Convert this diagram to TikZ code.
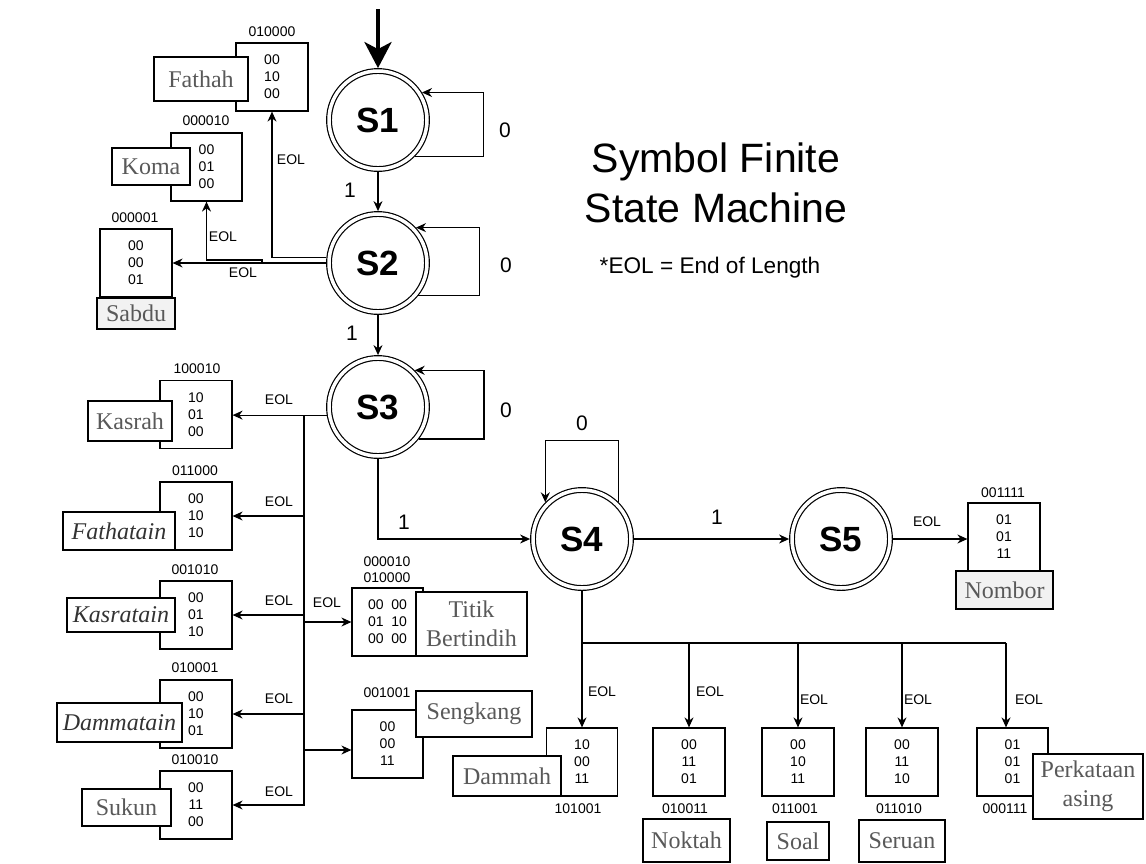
\documentclass[tikz,border=0pt]{standalone}
\usepackage{fontspec}
\setmainfont{Liberation Sans}
\newfontfamily\seriflab{Liberation Serif}
\usetikzlibrary{arrows.meta,calc}
\begin{document}
\begin{tikzpicture}[x=1pt,y=-1pt,line width=1.2pt,
  state/.style={circle,draw,double,double distance=3.5pt,line width=1.2pt,minimum size=98pt,inner sep=0pt,outer sep=2.9pt,font=\fontsize{35}{40}\selectfont\bfseries},
  databox/.style={draw,line width=1.2pt,minimum width=72pt,minimum height=68pt,inner sep=0pt,align=center,fill=white,font=\fontsize{14}{17}\selectfont},
  codetxt/.style={inner sep=0pt,font=\fontsize{14}{17}\selectfont},
  labbox/.style={draw,line width=1.2pt,fill=white,inner sep=0pt,align=center,text=black!65,font=\seriflab\fontsize{24}{29}\selectfont},
  ilabbox/.style={labbox,text=black!80,font=\seriflab\itshape\fontsize{24}{29}\selectfont},
  eoltxt/.style={inner sep=0pt,font=\fontsize{14}{17}\selectfont},
  trtxt/.style={inner sep=0pt,font=\fontsize{21}{25}\selectfont},
  arr/.style={-{Stealth[length=10pt,width=9pt]},line width=1.2pt},
]
\useasboundingbox (0,0) rectangle (1146,863);

% states
\node[state] (S1) at (378,120) {S1};
\node[state] (S2) at (378,263) {S2};
\node[state] (S3) at (378,407) {S3};
\node[state] (S4) at (582,539) {S4};
\node[state] (S5) at (841,539) {S5};

% title
\node[inner sep=0pt,anchor=base,font=\fontsize{41}{50}\selectfont] (t1) at (716,172) {Symbol Finite};
\node[inner sep=0pt,anchor=base,font=\fontsize{41}{50}\selectfont] (t2) at (716,222) {State Machine};
\node[inner sep=0pt,anchor=base,font=\fontsize{22.6}{27}\selectfont] (t3) at (710,273) {*EOL = End of Length};

% data boxes
\node[databox] (dFathah) at (272,77) {00\\10\\00};
\node[databox,minimum width=71pt] (dKoma) at (206.5,167) {00\\01\\00};
\node[databox] (dSabdu) at (136,263) {00\\00\\01};
\node[databox] (dKasrah) at (196,414.5) {10\\01\\00};
\node[databox] (dFathatain) at (196,516) {00\\10\\10};
\node[databox] (dKasratain) at (196,615) {00\\01\\10};
\node[databox] (dDammatain) at (196,714) {00\\10\\01};
\node[databox] (dSukun) at (196,805) {00\\11\\00};
\node[databox,minimum width=71pt] (dTitik) at (387.5,622) {00~~00\\01~~10\\00~~00};
\node[databox,minimum width=71pt] (dSengkang) at (387.5,744) {00\\00\\11};
\node[databox] (dNombor) at (1004,537) {01\\01\\11};
\node[databox,minimum width=71pt] (dDammah) at (582,762) {10\\00\\11};
\node[databox] (dNoktah) at (689,762) {00\\11\\01};
\node[databox] (dSoal) at (798,762) {00\\10\\11};
\node[databox] (dSeruan) at (902,762) {00\\11\\10};
\node[databox,minimum width=71pt] (dPerkataan) at (1012.5,762) {01\\01\\01};

% codes
\node[codetxt] (cFathah) at (272,32) {010000};
\node[codetxt] (cKoma) at (206,121) {000010};
\node[codetxt] (cSabdu) at (135,218) {000001};
\node[codetxt] (cKasrah) at (197,369) {100010};
\node[codetxt] (cFathatain) at (195,471) {011000};
\node[codetxt] (cKasratain) at (195,570) {001010};
\node[codetxt] (cDammatain) at (195,668) {010001};
\node[codetxt] (cSukun) at (195,760) {010010};
\node[codetxt] (cTitikA) at (387,562) {000010};
\node[codetxt] (cTitikB) at (387,578) {010000};
\node[codetxt] (cSengkang) at (387,693) {001001};
\node[codetxt] (cNombor) at (1003,493) {001111};
\node[codetxt] (cDammah) at (578,809) {101001};
\node[codetxt] (cNoktah) at (685,809) {010011};
\node[codetxt] (cSoal) at (795,809) {011001};
\node[codetxt] (cSeruan) at (899,809) {011010};
\node[codetxt] (cPerkataan) at (1005,809) {000111};

% label boxes
\node[labbox,minimum width=94pt,minimum height=44pt] (lFathah) at (201,79) {Fathah};
\node[labbox,minimum width=78pt,minimum height=37pt] (lKoma) at (151,166.5) {Koma};
\node[labbox,fill=black!5,minimum width=78pt,minimum height=31pt] (lSabdu) at (136,313.5) {Sabdu};
\node[labbox,minimum width=84pt,minimum height=40pt] (lKasrah) at (130,421) {Kasrah};
\node[ilabbox,minimum width=112pt,minimum height=38pt] (lFathatain) at (119,531) {Fathatain};
\node[ilabbox,minimum width=108pt,minimum height=34pt] (lKasratain) at (121,615) {Kasratain};
\node[ilabbox,minimum width=125pt,minimum height=39pt] (lDammatain) at (119.5,722.5) {Dammatain};
\node[labbox,minimum width=89pt,minimum height=37pt] (lSukun) at (126.5,807.5) {Sukun};
\node[labbox,minimum width=111pt,minimum height=64pt] (lTitik) at (471.5,624) {Titik\\Bertindih};
\node[labbox,minimum width=116pt,minimum height=46pt] (lSengkang) at (474,714) {Sengkang};
\node[labbox,fill=black!5,minimum width=97pt,minimum height=38pt] (lNombor) at (1004.5,590) {Nombor};
\node[labbox,minimum width=108pt,minimum height=40pt] (lDammah) at (507,776) {Dammah};
\node[labbox,minimum width=87pt,minimum height=43pt] (lNoktah) at (686.5,840.5) {Noktah};
\node[labbox,minimum width=62pt,minimum height=38pt] (lSoal) at (798,841) {Soal};
\node[labbox,minimum width=86pt,minimum height=42pt] (lSeruan) at (902,841) {Seruan};
\node[labbox,minimum width=110pt,minimum height=65pt] (lPerkataan) at (1088,786.5) {Perkataan\\asing};

% initial arrow
\coordinate (init) at (378,9);
\draw[line width=4pt,-{Stealth[length=26pt,width=27pt,inset=7pt]}] (init) -- (S1.north);

% transitions between states
\draw[arr] (S1.-45) -- ++(69,0) |- (S1.32);
\node[trtxt] (l10) at (505,130) {0};
\draw[arr] (S1.south) -- (S2.north);
\node[trtxt] (l11) at (350,190) {1};
\draw[arr] (S2.-39) -- ++(61,0) |- (S2.43.4);
\node[trtxt] (l20) at (506,265) {0};
\draw[arr] (S2.south) -- (S3.north);
\node[trtxt] (l21) at (352,333) {1};
\draw[arr] (S3.-38) -- ++(65,0) |- (S3.45.7);
\node[trtxt] (l30) at (506,410) {0};
\draw[arr] (S3.south) |- (S4.west);
\node[trtxt] (l31) at (404,522) {1};
\draw[arr] (S4.45) -- ++(0,-62) -| (S4.135);
\node[trtxt] (l40) at (582,423) {0};
\draw[arr] (S4.east) -- (S5.west);
\node[trtxt] (l41) at (717,517) {1};
\draw[arr] (S5.east) -- (S5.east -| dNombor.west);
\node[eoltxt] (e5) at (927,522) {EOL};

% S2 outputs
\draw[arr] (S2.174) -| (dFathah.south);
\node[eoltxt] (eF) at (291,160) {EOL};
\draw[arr] (S2.west) -- (dSabdu.east);
\node[eoltxt] (eS) at (243,273) {EOL};
\coordinate (km) at (262,263);
\draw[arr] (km) -- ++(0,-3) -| (dKoma.south);
\node[eoltxt] (eK) at (223,237) {EOL};

% S3 outputs
\draw[arr] (S3.189) -- (S3.189 -| dKasrah.east);
\coordinate (tr) at (304,415);
\coordinate (sg) at ([yshift=-6pt]dSengkang.west);
\draw[arr] (tr) |- (dSukun.east);
\draw[arr] (tr |- dFathatain.east) -- (dFathatain.east);
\draw[arr] (tr |- dKasratain.east) -- (dKasratain.east);
\draw[arr] (tr |- dDammatain.east) -- (dDammatain.east);
\draw[arr] (tr |- dTitik.west) -- (dTitik.west);
\draw[arr] (tr |- sg) -- (sg);
\node[eoltxt] (e31) at (279,400) {EOL};
\node[eoltxt] (e32) at (279,502) {EOL};
\node[eoltxt] (e33) at (279,601) {EOL};
\node[eoltxt] (e34) at (279,699) {EOL};
\node[eoltxt] (e35) at (279,792) {EOL};
\node[eoltxt] (e36) at (327,603) {EOL};

% S4 outputs
\coordinate (busR) at (1006,643);
\draw (S4.south) |- (busR);
\draw[arr] (S4.south |- busR) -- (dDammah.north);
\draw[arr] (dNoktah.north |- busR) -- (dNoktah.north);
\draw[arr] (dSoal.north |- busR) -- (dSoal.north);
\draw[arr] (dSeruan.north |- busR) -- (dSeruan.north);
\draw[arr] (busR) -- (busR |- dPerkataan.north);
\node[eoltxt] (e41) at (602,692) {EOL};
\node[eoltxt] (e42) at (710,692) {EOL};
\node[eoltxt] (e43) at (814,700) {EOL};
\node[eoltxt] (e44) at (918,700) {EOL};
\node[eoltxt] (e45) at (1029,700) {EOL};
\end{tikzpicture}
\end{document}
